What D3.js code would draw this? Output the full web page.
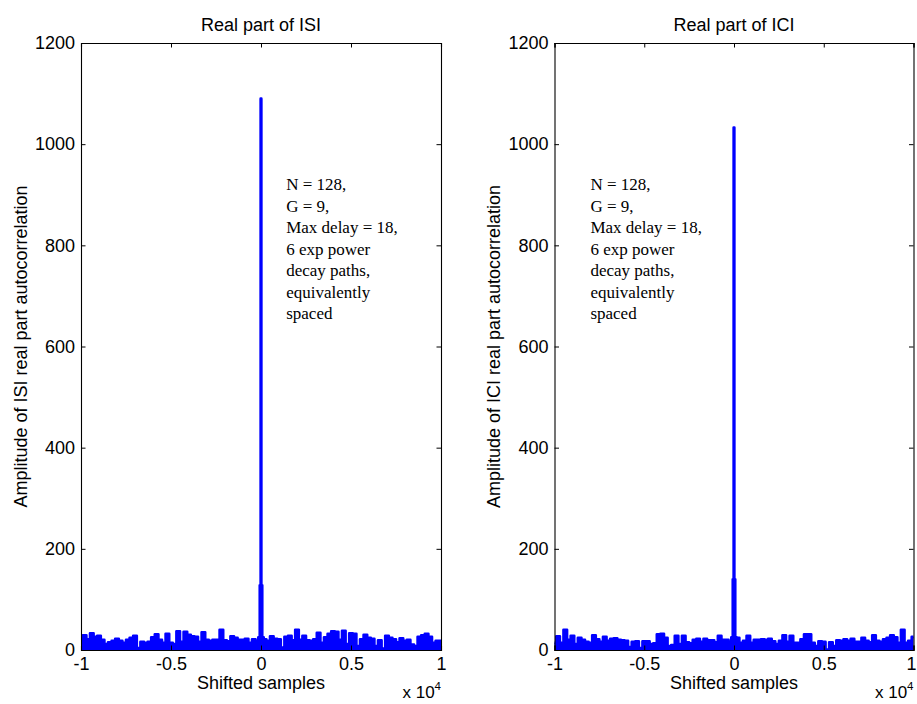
<!DOCTYPE html>
<html>
<head>
<meta charset="utf-8">
<script src="https://cdn.jsdelivr.net/npm/d3@7"></script>
<style>
  html, body { margin: 0; padding: 0; background: #fff; }
  svg { display: block; }
</style>
</head>
<body>
<svg id="fig" width="917" height="704"></svg>
<script>
// Autocorrelation amplitude envelopes, sampled every 200 shifted samples.
const lagStep = 200;
const lagMin = -10000;

// ISI: lags -10000 .. -200
const isiNeg = [14, 29, 21, 33, 26, 28, 20, 12, 15, 18, 22, 18, 14, 20, 24, 28, 4, 16, 14, 16,
  25, 31, 20, 14, 32, 14, 12, 37, 16, 36, 30, 27, 26, 16, 35, 20, 18, 20, 20, 40,
  19, 17, 27, 24, 20, 20, 22, 14, 21, 18];
// ISI: lags 200 .. 10000
const isiPos = [21, 18, 27, 22, 21, 5, 26, 28, 19, 40, 20, 28, 19, 18, 21, 34, 14, 25, 32, 37,
  36, 20, 38, 12, 33, 32, 8, 21, 30, 24, 22, 8, 19, 3, 28, 24, 21, 15, 23, 18,
  20, 11, 8, 26, 29, 32, 26, 14, 18, 18];
// ISI: main lobe around zero shift
const isiCenterLags = [-100, -40, 0, 40, 100];
const isiCenterVals = [25, 128, 1090, 128, 25];

// ICI: lags -10000 .. -200
const iciNeg = [14, 27, 14, 40, 20, 28, 12, 24, 20, 16, 14, 29, 21, 16, 26, 18, 22, 23, 20, 19,
  18, 6, 16, 17, 4, 17, 17, 12, 13, 31, 32, 24, 8, 10, 28, 12, 28, 15, 13, 20,
  22, 16, 22, 19, 19, 15, 28, 20, 20, 16];
// ICI: lags 200 .. 10000
const iciPos = [24, 14, 18, 28, 14, 20, 20, 21, 20, 22, 17, 12, 18, 29, 16, 28, 14, 14, 21, 31,
  31, 14, 8, 17, 16, 1, 15, 8, 19, 18, 21, 18, 22, 16, 16, 24, 18, 15, 29, 18,
  16, 21, 24, 29, 25, 14, 40, 14, 18, 26];
const iciCenterLags = [-100, -40, 0, 40, 100];
const iciCenterVals = [25, 140, 1033, 140, 25];

const xTicks = [-10000, -5000, 0, 5000, 10000];
const xTickLabels = ["-1", "-0.5", "0", "0.5", "1"];
const yTicks = [0, 200, 400, 600, 800, 1000, 1200];

const noteLines = ["N = 128,", "G = 9,", "Max delay = 18,", "6 exp power",
  "decay paths,", "equivalently", "spaced"];

function buildSeries(neg, cLags, cVals, pos) {
  const out = [];
  neg.forEach((v, i) => out.push([lagMin + i * lagStep, v]));
  cLags.forEach((l, i) => out.push([l, cVals[i]]));
  pos.forEach((v, i) => out.push([(i + 1) * lagStep, v]));
  return out;
}

const panels = [
  {
    title: "Real part of ISI",
    ylabel: "Amplitude of ISI real part autocorrelation",
    data: buildSeries(isiNeg, isiCenterLags, isiCenterVals, isiPos),
    left: 81, right: 441, ylabX: 26.5,
    noteLag: 1400
  },
  {
    title: "Real part of ICI",
    ylabel: "Amplitude of ICI real part autocorrelation",
    data: buildSeries(iciNeg, iciCenterLags, iciCenterVals, iciPos),
    left: 554.5, right: 913.5, ylabX: 500,
    noteLag: -8000
  }
];

const plotTop = 43, plotBottom = 650;
const figWidth = 917;
const svg = d3.select("#fig");
const sans = "'Liberation Sans', Arial, Helvetica, sans-serif";
const serif = "'Liberation Serif', 'Times New Roman', Times, serif";
const fs = 18;

panels.forEach(p => {
  const x = d3.scaleLinear().domain([-10000, 10000]).range([p.left, p.right]);
  const y = d3.scaleLinear().domain([0, 1200]).range([plotBottom, plotTop]);
  const g = svg.append("g");

  // signal
  const area = d3.area().curve(d3.curveStep)
    .x(d => x(d[0])).y0(y(0)).y1(d => y(d[1]));
  const line = d3.line().curve(d3.curveStep)
    .x(d => x(d[0])).y(d => y(d[1]));
  g.append("path").datum(p.data).attr("d", area).attr("fill", "#0000ff");
  g.append("path").datum(p.data).attr("d", line)
    .attr("fill", "none").attr("stroke", "#0000ff")
    .attr("stroke-width", 2.6).attr("stroke-linejoin", "round");

  // axes frame with inward ticks on all sides
  const tl = 4.5;
  const axB = d3.axisBottom(x).tickValues(xTicks).tickSize(-tl)
    .tickFormat((d, i) => xTickLabels[i]);
  const axT = d3.axisTop(x).tickValues(xTicks).tickSize(-tl).tickFormat("");
  const axL = d3.axisLeft(y).tickValues(yTicks).tickSize(-tl).tickFormat(d3.format("d"));
  const axR = d3.axisRight(y).tickValues(yTicks).tickSize(-tl).tickFormat("");

  const gb = g.append("g").attr("transform", `translate(0,${plotBottom})`).call(axB);
  const gt = g.append("g").attr("transform", `translate(0,${plotTop})`).call(axT);
  const gl = g.append("g").attr("transform", `translate(${p.left},0)`).call(axL);
  const gr = g.append("g").attr("transform", `translate(${p.right},0)`).call(axR);

  [gb, gt, gl, gr].forEach(a => {
    a.select(".domain").attr("stroke", "#000").attr("stroke-width", 1.1);
    a.selectAll(".tick line").attr("stroke", "#000").attr("stroke-width", 1);
    a.selectAll("text").attr("font-family", sans).attr("font-size", fs).attr("fill", "#000");
  });
  gb.selectAll(".tick text").attr("y", 7).attr("dy", "0.71em");
  gl.selectAll(".tick text").attr("x", -6);

  // keep the last x tick label inside the figure edge
  gb.selectAll(".tick text").each(function (d) {
    const el = d3.select(this);
    const w = this.getComputedTextLength();
    const overflow = x(d) + w / 2 - (figWidth - 1);
    if (overflow > 0) el.attr("x", -overflow);
  });

  // title
  g.append("text").attr("x", (p.left + p.right) / 2).attr("y", 31)
    .attr("text-anchor", "middle").attr("font-family", sans).attr("font-size", fs)
    .text(p.title);

  // x label and exponent
  g.append("text").attr("x", (p.left + p.right) / 2).attr("y", 689)
    .attr("text-anchor", "middle").attr("font-family", sans).attr("font-size", fs)
    .text("Shifted samples");
  const ex = g.append("text").attr("x", p.right).attr("y", 698)
    .attr("text-anchor", "end").attr("font-family", sans).attr("font-size", fs - 1);
  ex.append("tspan").text("x 10");
  ex.append("tspan").attr("font-size", 11.5).attr("dy", -8).text("4");

  // y label
  g.append("text")
    .attr("transform", `translate(${p.ylabX},${(plotTop + plotBottom) / 2}) rotate(-90)`)
    .attr("text-anchor", "middle").attr("font-family", sans).attr("font-size", fs)
    .text(p.ylabel);

  // annotation
  const note = g.append("text").attr("font-family", serif).attr("font-size", 17)
    .attr("fill", "#000");
  noteLines.forEach((s, i) => {
    note.append("tspan").attr("x", x(p.noteLag)).attr("y", 190 + i * 21.5).text(s);
  });
});
</script>
</body>
</html>
